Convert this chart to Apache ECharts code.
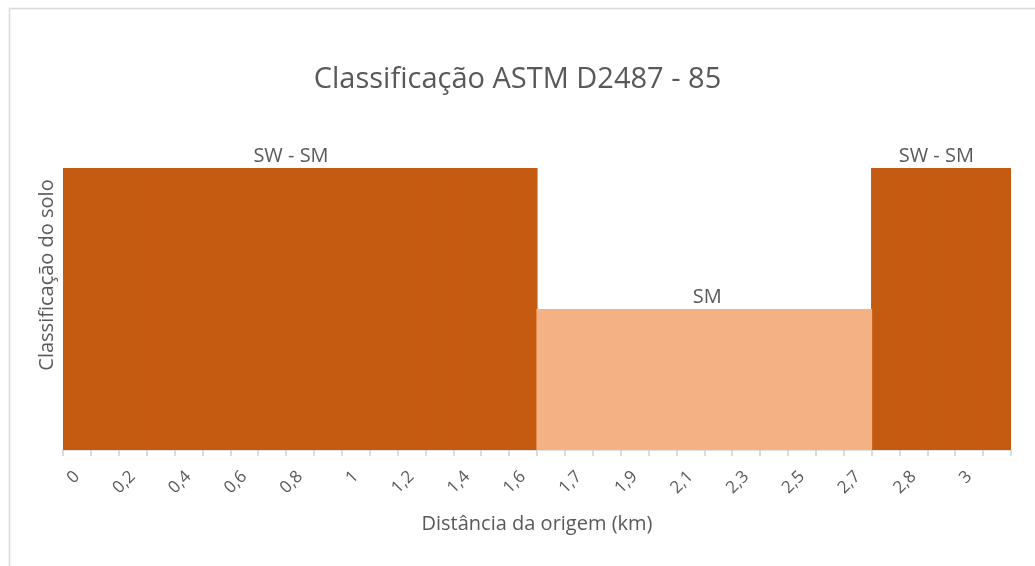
<!DOCTYPE html>
<html>
<head>
<meta charset="utf-8">
<script src="https://cdn.jsdelivr.net/npm/echarts@6/dist/echarts.min.js"></script>
<style>
html,body{margin:0;padding:0;background:#fff;}
#c{width:1035px;height:566px;}
</style>
</head>
<body>
<div id="c"></div>
<script>
// Distance categories (km); labels shown every other category
const categories = ['0','0,1','0,2','0,3','0,4','0,5','0,6','0,7','0,8','0,9','1','1,1','1,2','1,3','1,4','1,5','1,6',
  '1,65','1,7','1,8','1,9','2','2,1','2,2','2,3','2,4','2,5','2,6','2,7',
  '2,75','2,8','2,9','3','3,1'];
// Classification level: 2 = SW - SM, 1 = SM
const swsmValues = [2,2,2,2,2,2,2,2,2,2,2,2,2,2,2,2,2,
  null,null,null,null,null,null,null,null,null,null,null,null,
  2,2,2,2,2];
const smValues = [null,null,null,null,null,null,null,null,null,null,null,null,null,null,null,null,null,
  1,1,1,1,1,1,1,1,1,1,1,1,
  null,null,null,null,null];
const segmentLabels = [{index: 8, text: 'SW - SM', series: 'swsm'}, {index: 23, text: 'SM', series: 'sm'}, {index: 31, text: 'SW - SM', series: 'swsm'}];
const titleText = 'Classificação ASTM D2487 - 85';
const xName = 'Distância da origem (km)';
const yName = 'Classificação do solo';

const gray = '#595959';
const font = 'Open Sans';
const labelOffsets = {8: [-9, 0], 23: [-11, 0], 31: [-5, 0]};
const dark = '#C55A11', light = '#F4B183';

function build(values, key) {
  return values.map((v, i) => {
    const lab = segmentLabels.find(s => s.index === i && s.series === key);
    if (v === null) return null;
    if (!lab) return v;
    return {value: v, label: {show: true, position: 'top', formatter: lab.text, color: gray, fontSize: 20, fontFamily: font, distance: 2, offset: labelOffsets[i]}};
  });
}

const chart = echarts.init(document.getElementById('c'), null, {renderer: 'canvas'});
chart.setOption({
  animation: false,
  backgroundColor: '#fff',
  graphic: [
    {type: 'rect', left: 7, top: 6, shape: {width: 1100, height: 600}, style: {fill: 'none', stroke: '#d9d9d9', lineWidth: 1.5}, silent: true},
    {type: 'text', x: 47, y: 275, rotation: Math.PI / 2, style: {text: yName, fill: gray, fontSize: 20, fontFamily: font, align: 'center', verticalAlign: 'middle'}, silent: true}
  ],
  title: {text: titleText, left: 'center', top: 60, textStyle: {color: gray, fontSize: 29, fontWeight: 'normal', fontFamily: font}},
  grid: {left: 63, right: 24, top: 168, bottom: 116},
  xAxis: {
    type: 'category', data: categories, boundaryGap: true,
    name: xName, nameLocation: 'middle', nameGap: 64,
    nameTextStyle: {color: gray, fontSize: 20, fontFamily: font},
    axisLine: {lineStyle: {color: '#d9d9d9', width: 1.5}},
    axisTick: {show: true, interval: 0, length: 6, lineStyle: {color: '#d0d0d0', width: 1.5}},
    axisLabel: {interval: 1, rotate: 45, margin: 24, color: gray, fontSize: 17, fontFamily: font}
  },
  yAxis: {
    type: 'value', min: 0, max: 2,
    axisLine: {show: false}, axisTick: {show: false}, axisLabel: {show: false}, splitLine: {show: false}
  },
  series: [
    {name: 'SW - SM', type: 'bar', data: build(swsmValues, 'swsm'), barWidth: 29, barGap: '-100%', itemStyle: {color: dark}},
    {name: 'SM', type: 'bar', data: build(smValues, 'sm'), barWidth: 29, barGap: '-100%', itemStyle: {color: light}}
  ]
});
</script>
</body>
</html>
